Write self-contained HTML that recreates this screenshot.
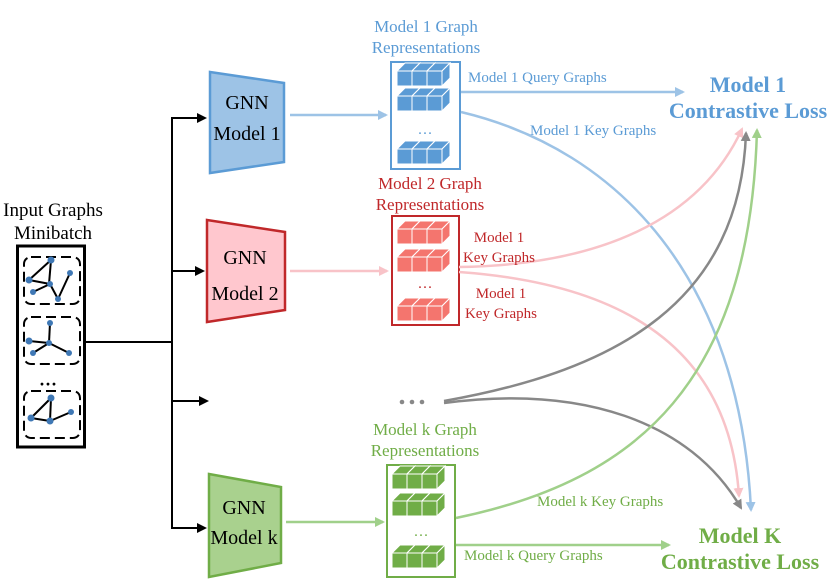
<!DOCTYPE html>
<html><head><meta charset="utf-8"><style>
html,body{margin:0;padding:0;background:#fff}
svg{display:block;font-family:"Liberation Serif",serif}
</style></head><body>
<svg width="830" height="588" viewBox="0 0 830 588" xmlns="http://www.w3.org/2000/svg">
<defs>
<g id="cube">
<polygon points="0,8 8,0 23,0 15,8" fill="currentColor" stroke="#fff" stroke-width="1"/>
<polygon points="15,8 23,0 23,15 15,23" fill="currentColor" stroke="#fff" stroke-width="1"/>
<rect x="0" y="8" width="15" height="15" fill="currentColor" stroke="#fff" stroke-width="1"/>
</g>
<g id="row"><use href="#cube" x="0"/><use href="#cube" x="15"/><use href="#cube" x="30"/></g>
<marker id="ab" markerWidth="10" markerHeight="10" refX="8" refY="5" orient="auto" markerUnits="userSpaceOnUse"><path d="M0,0 L10,5 L0,10 Z" fill="#9dc3e6"/></marker>
<marker id="ar" markerWidth="10" markerHeight="10" refX="8" refY="5" orient="auto" markerUnits="userSpaceOnUse"><path d="M0,0 L10,5 L0,10 Z" fill="#f8c3c8"/></marker>
<marker id="ag" markerWidth="10" markerHeight="10" refX="8" refY="5" orient="auto" markerUnits="userSpaceOnUse"><path d="M0,0 L10,5 L0,10 Z" fill="#a0d08a"/></marker>
<marker id="ay" markerWidth="10" markerHeight="10" refX="8" refY="5" orient="auto" markerUnits="userSpaceOnUse"><path d="M0,0 L10,5 L0,10 Z" fill="#888"/></marker>
<marker id="ak" markerWidth="10" markerHeight="10" refX="8" refY="5" orient="auto" markerUnits="userSpaceOnUse"><path d="M0,0 L10,5 L0,10 Z" fill="#000"/></marker>
</defs>

<text x="53" y="216" font-size="19" text-anchor="middle">Input Graphs</text>
<text x="53" y="239" font-size="19" text-anchor="middle">Minibatch</text>
<rect x="17.5" y="246" width="67" height="201" fill="none" stroke="#000" stroke-width="3"/>
<g fill="none" stroke="#000" stroke-width="2" stroke-dasharray="10,5">
<rect x="24" y="257" width="56" height="47" rx="7"/>
<rect x="24" y="317" width="56" height="47" rx="7"/>
<rect x="24" y="391" width="56" height="47" rx="7"/>
</g>
<g stroke="#000" stroke-width="2">
<line x1="51" y1="260" x2="29" y2="280"/><line x1="29" y1="280" x2="50" y2="284"/><line x1="51" y1="260" x2="49" y2="284"/>
<line x1="50" y1="284" x2="58" y2="299"/><line x1="58" y1="299" x2="70" y2="273"/><line x1="33" y1="292" x2="50" y2="284"/>
<line x1="50" y1="323" x2="49" y2="343"/><line x1="29" y1="341" x2="49" y2="343"/><line x1="49" y1="343" x2="33" y2="353"/><line x1="49" y1="343" x2="69" y2="353"/>
<line x1="51" y1="398" x2="31" y2="418"/><line x1="31" y1="418" x2="50" y2="421"/><line x1="51" y1="398" x2="50" y2="421"/><line x1="50" y1="421" x2="71" y2="412"/>
</g>
<g fill="#3f78b5">
<circle cx="51" cy="260" r="3.5"/><circle cx="29" cy="280" r="3.5"/><circle cx="50" cy="284" r="3"/><circle cx="58" cy="299" r="3"/><circle cx="70" cy="273" r="3"/><circle cx="33" cy="292" r="3"/>
<circle cx="50" cy="323" r="3"/><circle cx="49" cy="343" r="3"/><circle cx="29" cy="341" r="3.5"/><circle cx="33" cy="353" r="3"/><circle cx="69" cy="353" r="3"/>
<circle cx="51" cy="398" r="3.5"/><circle cx="31" cy="418" r="3.5"/><circle cx="50" cy="421" r="3.5"/><circle cx="71" cy="412" r="3"/>
</g>
<text x="48" y="390" font-size="18" text-anchor="middle" font-weight="bold">···</text>

<g stroke="#000" stroke-width="2" fill="none">
<line x1="86" y1="342" x2="172" y2="342"/>
<line x1="172" y1="117" x2="172" y2="529"/>
<line x1="171" y1="118" x2="205" y2="118" marker-end="url(#ak)"/>
<line x1="171" y1="271" x2="203" y2="271" marker-end="url(#ak)"/>
<line x1="171" y1="401" x2="207" y2="401" marker-end="url(#ak)"/>
<line x1="171" y1="528" x2="205" y2="528" marker-end="url(#ak)"/>
</g>

<polygon points="210,72 284,83 284,162 210,173" fill="#9dc3e6" stroke="#5b9bd5" stroke-width="2.5"/>
<text x="247" y="109" font-size="20" text-anchor="middle">GNN</text>
<text x="247" y="140" font-size="20" text-anchor="middle">Model 1</text>
<polygon points="207,220 285,232 285,310 207,322" fill="#ffc7ce" stroke="#c0282a" stroke-width="2.5"/>
<text x="245" y="264" font-size="20" text-anchor="middle">GNN</text>
<text x="245" y="300" font-size="20" text-anchor="middle">Model 2</text>
<polygon points="209,474 281,487 281,563 209,577" fill="#a9d18e" stroke="#70ad47" stroke-width="2.5"/>
<text x="244" y="514" font-size="20" text-anchor="middle">GNN</text>
<text x="244" y="544" font-size="20" text-anchor="middle">Model k</text>

<line x1="290" y1="115" x2="386" y2="115" stroke="#9dc3e6" stroke-width="2.5" marker-end="url(#ab)"/>
<line x1="290" y1="271" x2="387" y2="271" stroke="#f8c3c8" stroke-width="2.5" marker-end="url(#ar)"/>
<line x1="286" y1="522" x2="383" y2="522" stroke="#a0d08a" stroke-width="2.5" marker-end="url(#ag)"/>

<text x="426" y="32" font-size="17" fill="#5b9bd5" text-anchor="middle">Model 1 Graph</text>
<text x="426" y="53" font-size="17" fill="#5b9bd5" text-anchor="middle">Representations</text>
<rect x="391" y="62" width="69" height="107" fill="#fff" stroke="#5b9bd5" stroke-width="2"/>
<g color="#5b9bd5"><use href="#row" x="397" y="63"/><use href="#row" x="397" y="88"/><use href="#row" x="397" y="141"/></g>
<text x="425" y="138" font-size="15" fill="#5b9bd5" text-anchor="middle">···</text>

<text x="430" y="189" font-size="17" fill="#c0282a" text-anchor="middle">Model 2 Graph</text>
<text x="430" y="210" font-size="17" fill="#c0282a" text-anchor="middle">Representations</text>
<rect x="392" y="216" width="67" height="109" fill="#fff" stroke="#c0282a" stroke-width="2"/>
<g color="#f4756e"><use href="#row" x="397" y="221"/><use href="#row" x="397" y="249"/><use href="#row" x="397" y="298"/></g>
<text x="425" y="292" font-size="15" fill="#c0282a" text-anchor="middle">···</text>

<text x="425" y="435" font-size="17" fill="#70ad47" text-anchor="middle">Model k Graph</text>
<text x="425" y="456" font-size="17" fill="#70ad47" text-anchor="middle">Representations</text>
<rect x="387" y="465" width="68" height="112" fill="#fff" stroke="#70ad47" stroke-width="2"/>
<g color="#70ad47"><use href="#row" x="392" y="466"/><use href="#row" x="392" y="493"/><use href="#row" x="392" y="545"/></g>
<text x="421" y="540" font-size="15" fill="#70ad47" text-anchor="middle">···</text>

<g fill="#888"><circle cx="402" cy="402" r="2.3"/><circle cx="412" cy="402" r="2.3"/><circle cx="422" cy="402" r="2.3"/></g>

<g fill="none" stroke-width="2.5">
<line x1="461" y1="92" x2="683" y2="92" stroke="#9dc3e6" marker-end="url(#ab)"/>
<path d="M461,112 C620,150 740,280 751,510" stroke="#9dc3e6" marker-end="url(#ab)"/>
<path d="M459,267 C600,265 700,220 742,129" stroke="#f8c3c8" marker-end="url(#ar)"/>
<path d="M459,272 C640,285 730,360 739,496" stroke="#f8c3c8" marker-end="url(#ar)"/>
<path d="M444,401 C620,370 740,300 746,133" stroke="#888" marker-end="url(#ay)"/>
<path d="M444,403 C580,385 690,420 741,508" stroke="#888" marker-end="url(#ay)"/>
<path d="M456,518 C640,480 750,380 757,130" stroke="#a0d08a" marker-end="url(#ag)"/>
<line x1="456" y1="545" x2="669" y2="545" stroke="#a0d08a" marker-end="url(#ag)"/>
</g>

<text x="468" y="82" font-size="15" fill="#5b9bd5">Model 1 Query Graphs</text>
<text x="530" y="135" font-size="15" fill="#5b9bd5">Model 1 Key Graphs</text>
<text x="499" y="242" font-size="15" fill="#c0282a" text-anchor="middle">Model 1</text>
<text x="499" y="262" font-size="15" fill="#c0282a" text-anchor="middle">Key Graphs</text>
<text x="501" y="298" font-size="15" fill="#c0282a" text-anchor="middle">Model 1</text>
<text x="501" y="318" font-size="15" fill="#c0282a" text-anchor="middle">Key Graphs</text>
<text x="537" y="506" font-size="15" fill="#70ad47">Model k Key Graphs</text>
<text x="464" y="560" font-size="15" fill="#70ad47">Model k Query Graphs</text>

<text x="748" y="92" font-size="22" font-weight="bold" fill="#5b9bd5" text-anchor="middle">Model 1</text>
<text x="748" y="118" font-size="22" font-weight="bold" fill="#5b9bd5" text-anchor="middle">Contrastive Loss</text>
<text x="740" y="543" font-size="22" font-weight="bold" fill="#70ad47" text-anchor="middle">Model K</text>
<text x="740" y="569" font-size="22" font-weight="bold" fill="#70ad47" text-anchor="middle">Contrastive Loss</text>
</svg>
</body></html>
